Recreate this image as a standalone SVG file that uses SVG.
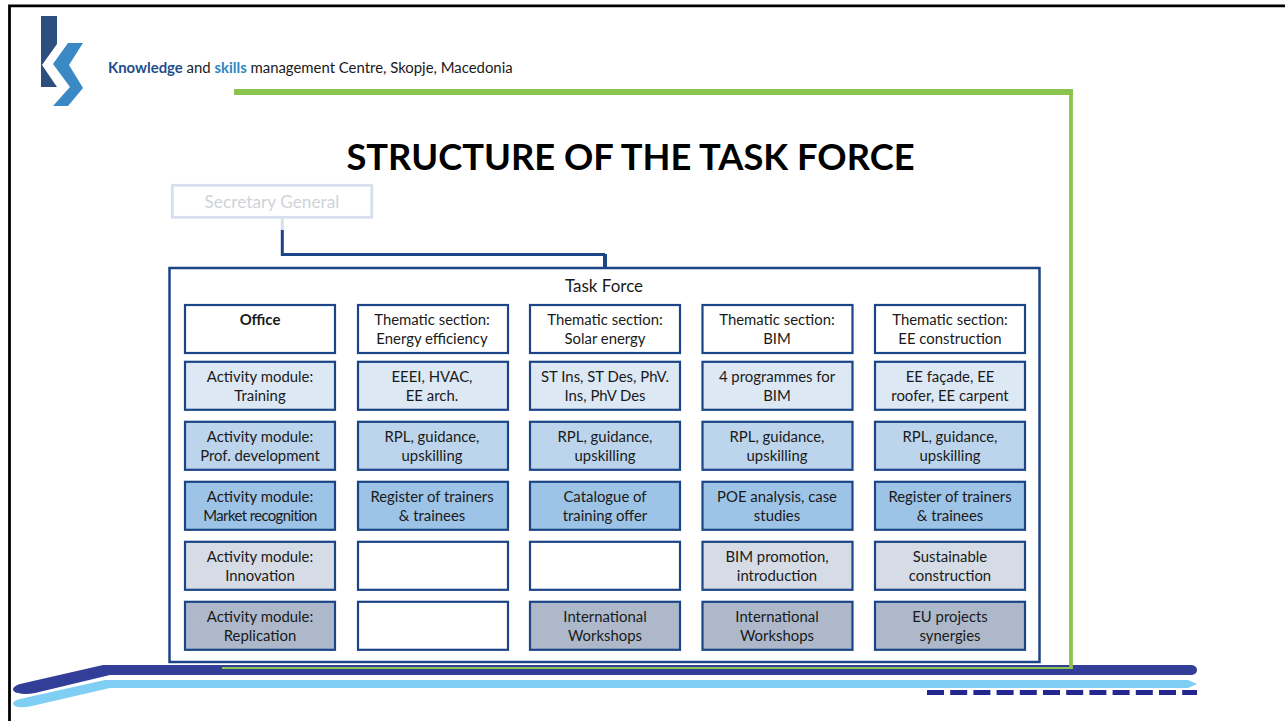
<svg xmlns="http://www.w3.org/2000/svg" width="1285" height="721" viewBox="0 0 1285 721">
<style>
text{font-family:Lato,"Liberation Sans",sans-serif;fill:#1a1a1a;text-anchor:middle}
.t{font-size:14.9px}
.n rect{stroke:#1c4587;stroke-width:2.200}
.w{fill:#fff}.a{fill:#dde8f5}.b{fill:#bdd5ec}.c{fill:#9dc3e6}.d{fill:#d6dce5}.e{fill:#adb9ca}
.line{fill:none;stroke:#1c4587;stroke-width:3}
</style>
<rect width="1285" height="721" fill="#fff"/>
<path d="M9.500 721V5.800H1285" fill="none" stroke="#000" stroke-width="2.800"/>
<g id="logo">
<path d="M41 16H57V44L42 65L57 87H41Z" fill="#2d4f80"/>
<path d="M68 43H83L69 65L83 88L68 106H53L70 87L53 64Z" fill="#3a88c4"/>
</g>
<g id="header">
<text x="108" y="73" font-size="14.9" style="text-anchor:start"><tspan font-weight="700" style="fill:#1f4e8c">Knowledge</tspan> and <tspan font-weight="700" style="fill:#2e86c1">skills</tspan> management Centre, Skopje, Macedonia</text>
</g>
<text id="title" x="630.500" y="170" font-size="36.300" font-weight="700" style="fill:#000">STRUCTURE OF THE TASK FORCE</text>
<g id="bands">
<path d="M13 689Q14 686 20 684L103 665H1192Q1197 666 1197 670Q1197 674 1192 675H110L35 693Q25 695 18 693Q13 692 13 689Z" fill="#323e97"/>
<path d="M13 703Q15 700 20 699L105 680H1188L1197 684L1188 688H110L32 706Q24 708 18 707Q13 706 13 703Z" fill="#7fcef3"/>
<path d="M927 692.500H1197" fill="none" stroke="#24288e" stroke-width="5" stroke-dasharray="17 6.200"/>
</g>
<g id="connectors">
<path d="M234 92H1073" fill="none" stroke="#8bc34f" stroke-width="6"/>
<path d="M1071 89V669" fill="none" stroke="#8bc34f" stroke-width="3.800"/>
<path d="M222 668H1072" fill="none" stroke="#8bc34f" stroke-width="1.800"/>
<path d="M282.300 218V230" fill="none" stroke="#d5dfed" stroke-width="3"/>
<path class="line" d="M282.300 230V254.500H605"/>
<path d="M605 254V268" fill="none" stroke="#1c4587" stroke-width="4"/>
</g>
<g id="secretary"><rect x="172.300" y="185.300" width="199.500" height="32" fill="#fff" stroke="#d5dfed" stroke-width="2.800"/><text x="272" y="208" font-size="17.300" style="fill:#d0d3d8">Secretary General</text></g>
<g id="taskforce"><rect x="169.500" y="268" width="870" height="394" fill="#fff" stroke="#1c4587" stroke-width="2.500"/><text x="604" y="292" font-size="17">Task Force</text></g>
<g class="n">
<g id="r1c1"><rect class="w" x="185" y="305" width="150" height="48"/><text class="t" x="260" y="325" font-weight="700">Office</text></g>
<g id="r1c2"><rect class="w" x="358" y="305" width="150" height="48"/><text class="t" x="432" y="325">Thematic section:</text><text class="t" x="432" y="344">Energy efficiency</text></g>
<g id="r1c3"><rect class="w" x="530" y="305" width="150" height="48"/><text class="t" x="605" y="325">Thematic section:</text><text class="t" x="605" y="344">Solar energy</text></g>
<g id="r1c4"><rect class="w" x="702.500" y="305" width="150" height="48"/><text class="t" x="777" y="325">Thematic section:</text><text class="t" x="777" y="344">BIM</text></g>
<g id="r1c5"><rect class="w" x="875" y="305" width="150" height="48"/><text class="t" x="950" y="325">Thematic section:</text><text class="t" x="950" y="344">EE construction</text></g>
<g id="r2c1"><rect class="a" x="185" y="361.800" width="150" height="48"/><text class="t" x="260" y="382">Activity module:</text><text class="t" x="260" y="401">Training</text></g>
<g id="r2c2"><rect class="a" x="358" y="361.800" width="150" height="48"/><text class="t" x="432" y="382">EEEI, HVAC,</text><text class="t" x="432" y="401">EE arch.</text></g>
<g id="r2c3"><rect class="a" x="530" y="361.800" width="150" height="48"/><text class="t" x="605" y="382">ST Ins, ST Des, PhV.</text><text class="t" x="605" y="401">Ins, PhV Des</text></g>
<g id="r2c4"><rect class="a" x="702.500" y="361.800" width="150" height="48"/><text class="t" x="777" y="382">4 programmes for</text><text class="t" x="777" y="401">BIM</text></g>
<g id="r2c5"><rect class="a" x="875" y="361.800" width="150" height="48"/><text class="t" x="950" y="382">EE façade, EE</text><text class="t" x="950" y="401">roofer, EE carpent</text></g>
<g id="r3c1"><rect class="b" x="185" y="421.800" width="150" height="48"/><text class="t" x="260" y="442">Activity module:</text><text class="t" x="260" y="461">Prof. development</text></g>
<g id="r3c2"><rect class="b" x="358" y="421.800" width="150" height="48"/><text class="t" x="432" y="442">RPL, guidance,</text><text class="t" x="432" y="461">upskilling</text></g>
<g id="r3c3"><rect class="b" x="530" y="421.800" width="150" height="48"/><text class="t" x="605" y="442">RPL, guidance,</text><text class="t" x="605" y="461">upskilling</text></g>
<g id="r3c4"><rect class="b" x="702.500" y="421.800" width="150" height="48"/><text class="t" x="777" y="442">RPL, guidance,</text><text class="t" x="777" y="461">upskilling</text></g>
<g id="r3c5"><rect class="b" x="875" y="421.800" width="150" height="48"/><text class="t" x="950" y="442">RPL, guidance,</text><text class="t" x="950" y="461">upskilling</text></g>
<g id="r4c1"><rect class="c" x="185" y="481.800" width="150" height="48"/><text class="t" x="260" y="502">Activity module:</text><text class="t" x="260" y="521" letter-spacing="-0.600">Market recognition</text></g>
<g id="r4c2"><rect class="c" x="358" y="481.800" width="150" height="48"/><text class="t" x="432" y="502">Register of trainers</text><text class="t" x="432" y="521">&amp; trainees</text></g>
<g id="r4c3"><rect class="c" x="530" y="481.800" width="150" height="48"/><text class="t" x="605" y="502">Catalogue of</text><text class="t" x="605" y="521">training offer</text></g>
<g id="r4c4"><rect class="c" x="702.500" y="481.800" width="150" height="48"/><text class="t" x="777" y="502">POE analysis, case</text><text class="t" x="777" y="521">studies</text></g>
<g id="r4c5"><rect class="c" x="875" y="481.800" width="150" height="48"/><text class="t" x="950" y="502">Register of trainers</text><text class="t" x="950" y="521">&amp; trainees</text></g>
<g id="r5c1"><rect class="d" x="185" y="541.800" width="150" height="48"/><text class="t" x="260" y="562">Activity module:</text><text class="t" x="260" y="581">Innovation</text></g>
<g id="r5c2"><rect class="w" x="358" y="541.800" width="150" height="48"/></g>
<g id="r5c3"><rect class="w" x="530" y="541.800" width="150" height="48"/></g>
<g id="r5c4"><rect class="d" x="702.500" y="541.800" width="150" height="48"/><text class="t" x="777" y="562">BIM promotion,</text><text class="t" x="777" y="581">introduction</text></g>
<g id="r5c5"><rect class="d" x="875" y="541.800" width="150" height="48"/><text class="t" x="950" y="562">Sustainable</text><text class="t" x="950" y="581">construction</text></g>
<g id="r6c1"><rect class="e" x="185" y="601.800" width="150" height="48"/><text class="t" x="260" y="622">Activity module:</text><text class="t" x="260" y="641">Replication</text></g>
<g id="r6c2"><rect class="w" x="358" y="601.800" width="150" height="48"/></g>
<g id="r6c3"><rect class="e" x="530" y="601.800" width="150" height="48"/><text class="t" x="605" y="622">International</text><text class="t" x="605" y="641">Workshops</text></g>
<g id="r6c4"><rect class="e" x="702.500" y="601.800" width="150" height="48"/><text class="t" x="777" y="622">International</text><text class="t" x="777" y="641">Workshops</text></g>
<g id="r6c5"><rect class="e" x="875" y="601.800" width="150" height="48"/><text class="t" x="950" y="622">EU projects</text><text class="t" x="950" y="641">synergies</text></g>
</g>
</svg>
